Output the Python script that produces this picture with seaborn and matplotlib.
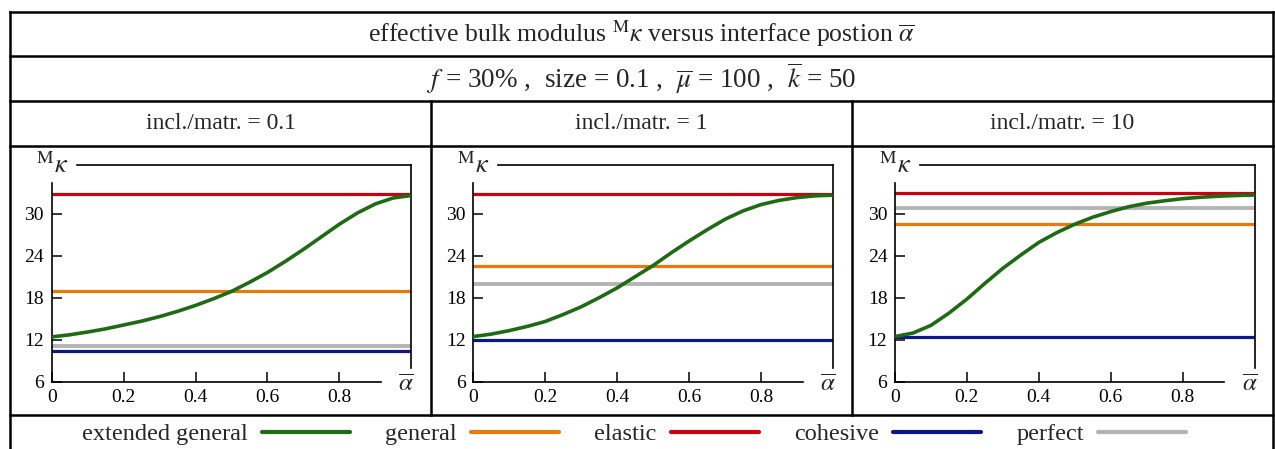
import numpy as np
import pandas as pd
import matplotlib
matplotlib.use("Agg")
import matplotlib.pyplot as plt
from matplotlib.lines import Line2D
import seaborn as sns

# ---------------- data ----------------
alpha = [0.0, 0.05, 0.1, 0.15, 0.2, 0.25, 0.3, 0.35, 0.4, 0.45, 0.5,
         0.55, 0.6, 0.65, 0.7, 0.75, 0.8, 0.85, 0.9, 0.95, 1.0]
panel_titles = ["incl./matr. = 0.1", "incl./matr. = 1", "incl./matr. = 10"]
ext_general = [
    [12.4, 12.7, 13.1, 13.55, 14.1, 14.65, 15.3, 16.05, 16.9, 17.85, 18.9,
     20.2, 21.6, 23.2, 24.9, 26.7, 28.5, 30.1, 31.4, 32.25, 32.6],
    [12.45, 12.8, 13.3, 13.9, 14.6, 15.6, 16.7, 18.0, 19.4, 21.0, 22.6,
     24.4, 26.1, 27.7, 29.2, 30.4, 31.3, 31.9, 32.3, 32.55, 32.65],
    [12.45, 12.95, 14.05, 15.8, 17.8, 20.05, 22.2, 24.1, 25.9, 27.3, 28.5,
     29.5, 30.3, 31.0, 31.5, 31.85, 32.15, 32.35, 32.5, 32.6, 32.67],
]
general = [18.9, 22.6, 28.5]
elastic = [32.8, 32.8, 32.9]
cohesive = [10.45, 11.95, 12.4]
perfect = [11.05, 19.9, 30.8]

y_ticks = [6, 12, 18, 24, 30]
x_ticks = [0, 0.2, 0.4, 0.6, 0.8]
x_tick_labels = ["0", "0.2", "0.4", "0.6", "0.8"]
legend_labels = ["extended general", "general", "elastic", "cohesive", "perfect"]

colors = {"extended general": "#1f6a14", "general": "#e8790a",
          "elastic": "#cc0010", "cohesive": "#0c1888", "perfect": "#b4b4b4"}

# ---------------- style ----------------
sns.set_theme(style="white")
plt.rcParams["font.family"] = ["Liberation Serif", "DejaVu Serif"]
plt.rcParams["mathtext.fontset"] = "stix"

W, H = 1275, 449
fig = plt.figure(figsize=(W / 100, H / 100), dpi=100)
fig.patch.set_facecolor("white")

def fx(px):
    return px / W

def fy(py):
    return 1 - py / H

# table frame
frame_lw = 1.8
def hline(y, x0=10, x1=1273):
    fig.add_artist(Line2D([fx(x0), fx(x1)], [fy(y), fy(y)], transform=fig.transFigure,
                          color="black", lw=frame_lw, solid_capstyle="projecting"))

def vline(x, y0, y1):
    fig.add_artist(Line2D([fx(x), fx(x)], [fy(y0), fy(y1)], transform=fig.transFigure,
                          color="black", lw=frame_lw, solid_capstyle="projecting"))

for y in [12, 56, 101, 146, 415]:
    hline(y)
vline(10, 12, 449)
vline(1273, 12, 449)
vline(431, 101, 415)
vline(852, 101, 415)

fig.text(fx(641.5), fy(34),
         r"effective bulk modulus ${}^{\mathrm{M}}\kappa$ versus interface postion $\overline{\alpha}$",
         ha="center", va="center", fontsize=18.5)
fig.text(fx(641.5), fy(78.5),
         r"$f$ = 30% ,  size = 0.1 ,  $\overline{\mu}$ = 100 ,  $\overline{k}$ = 50",
         ha="center", va="center", fontsize=19.5)
for cx, t in zip([220.5, 641.5, 1062.5], panel_titles):
    fig.text(fx(cx), fy(123.5), t, ha="center", va="center", fontsize=17)

# axes
ax_left_px = [51.7, 473.3, 895.0]
ax_w_px = 359.6
ax_bottom_px = 381.7
ax_top_px = 164.7

for i, lx in enumerate(ax_left_px):
    ax = fig.add_axes([fx(lx), fy(ax_bottom_px), ax_w_px / W, (ax_bottom_px - ax_top_px) / H])
    ax.set_facecolor("none")
    ax.axhline(perfect[i], color=colors["perfect"], lw=2.8, zorder=2)
    ax.axhline(cohesive[i], color=colors["cohesive"], lw=2.3, zorder=2)
    ax.axhline(general[i], color=colors["general"], lw=2.3, zorder=2)
    ax.axhline(elastic[i], color=colors["elastic"], lw=2.3, zorder=2)
    df = pd.DataFrame({"alpha": alpha, "k": ext_general[i]})
    sns.lineplot(data=df, x="alpha", y="k", ax=ax, color=colors["extended general"],
                 lw=2.6, zorder=3)
    ax.set_xlim(0, 1.0)
    ax.set_ylim(6, 37)
    for s in ax.spines.values():
        s.set_visible(True)
        s.set_color("black")
        s.set_linewidth(1.2)
    ax.spines["left"].set_bounds(6, 34.4)
    ax.spines["bottom"].set_bounds(0, 0.916)
    ax.spines["top"].set_bounds(0.07, 1.0)
    ax.spines["right"].set_bounds(7.96, 37)
    ax.set_xticks(x_ticks)
    ax.set_xticklabels(x_tick_labels)
    ax.set_yticks(y_ticks)
    ax.set_yticklabels([str(v) for v in y_ticks])
    ax.tick_params(axis="both", direction="in", length=7.5, width=1.1, color="black",
                   labelsize=14, labelcolor="black", pad=5.5)
    ax.tick_params(axis="x", top=False, bottom=True)
    ax.tick_params(axis="y", left=True, right=False)
    ax.set_xlabel("")
    ax.set_ylabel("")
    ax.grid(False)
    ax.text(0.0, 0.999, r"${}^{\mathrm{M}}\kappa$", transform=ax.transAxes,
            ha="center", va="center", fontsize=19)
    ax.text(0.986, -0.015, r"$\overline{\alpha}$", transform=ax.transAxes,
            ha="center", va="center", fontsize=18)

handles = [Line2D([], [], color=colors[l], lw=3.0) for l in legend_labels]
fig.legend(handles, legend_labels, loc="center", bbox_to_anchor=(fx(634), fy(434)),
           ncol=5, frameon=False, markerfirst=False, handlelength=3.6,
           handletextpad=0.6, columnspacing=1.45, fontsize=17.5, borderpad=0,
           borderaxespad=0)

fig.savefig("out.png", dpi=100, facecolor="white")
